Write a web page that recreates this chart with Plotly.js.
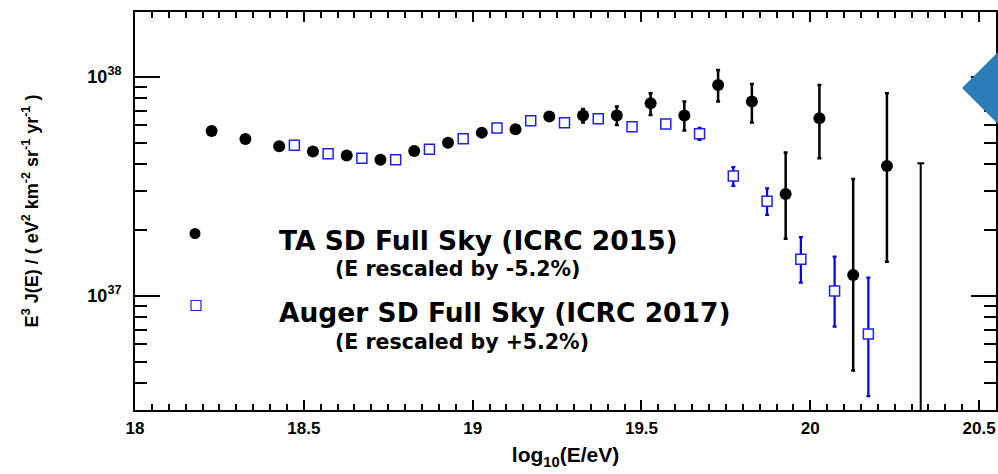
<!DOCTYPE html>
<html>
<head>
<meta charset="utf-8">
<script src="https://cdn.plot.ly/plotly-3.0.1.min.js"></script>
<style>
  html, body { margin: 0; padding: 0; background: #ffffff; }
  #chart { width: 998px; height: 474px; }
</style>
</head>
<body>
<div id="chart"></div>
<script>
// Telescope Array SD spectrum (energy rescaled by -5.2%)
const taLogE = [18.227, 18.327, 18.427, 18.527, 18.627, 18.727, 18.827, 18.927, 19.027, 19.127,
                19.227, 19.327, 19.427, 19.527, 19.627, 19.727, 19.827, 19.927, 20.027, 20.127, 20.227];
const taFlux = [5.65e37, 5.19e37, 4.81e37, 4.55e37, 4.36e37, 4.17e37, 4.58e37, 4.99e37, 5.55e37, 5.75e37,
                6.57e37, 6.64e37, 6.64e37, 7.56e37, 6.64e37, 9.16e37, 7.69e37, 2.91e37, 6.46e37, 1.243e37, 3.91e37];
const taUpper = [null, null, null, null, null, null, null, null, null, null,
                 null, 7.12e37, 7.30e37, 8.40e37, 7.69e37, 1.073e38, 9.26e37, 4.50e37, 9.16e37, 3.41e37, 8.40e37];
const taLower = [null, null, null, null, null, null, null, null, null, null,
                 null, 6.17e37, 6.02e37, 6.68e37, 5.67e37, 7.69e37, 6.17e37, 1.82e37, 4.24e37, 4.55e36, 1.43e37];
// highest TA bin: upper limit only
const taLimitLogE = [20.327];
const taLimitFlux = [4.02e37];

// Pierre Auger SD spectrum (energy rescaled by +5.2%)
const augerLogE = [18.472, 18.572, 18.672, 18.772, 18.872, 18.972, 19.072, 19.172, 19.272, 19.372,
                   19.472, 19.572, 19.672, 19.772, 19.872, 19.972, 20.072, 20.172];
const augerFlux = [4.86e37, 4.44e37, 4.24e37, 4.17e37, 4.66e37, 5.21e37, 5.83e37, 6.28e37, 6.15e37, 6.43e37,
                   5.91e37, 6.08e37, 5.48e37, 3.52e37, 2.70e37, 1.466e37, 1.051e37, 6.69e36];
const augerUpper = [null, null, null, null, null, null, null, null, null, null,
                    null, null, 5.83e37, 3.86e37, 3.09e37, 1.85e37, 1.507e37, 1.208e37];
const augerLower = [null, null, null, null, null, null, null, null, null, null,
                    null, null, 5.14e37, 3.17e37, 2.34e37, 1.147e37, 7.22e36, 3.48e36];

// axis ticks
const yTickVals = [1e37, 1e38];
const yTickText = ['10<sup>37</sup>', '10<sup>38</sup>'];
const yMinorVals = [3e36, 4e36, 5e36, 6e36, 7e36, 8e36, 9e36,
                    2e37, 3e37, 4e37, 5e37, 6e37, 7e37, 8e37, 9e37];

// legend labels
const taLabel = 'TA SD Full Sky (ICRC 2015)';
const taNote = '(E rescaled by -5.2%)';
const augerLabel = 'Auger SD Full Sky (ICRC 2017)';
const augerNote = '(E rescaled by +5.2%)';

// ---- layout geometry ----
const W = 998, H = 474;
const M = { l: 135, r: 2, t: 12, b: 64 };
const plotW = W - M.l - M.r, plotH = H - M.t - M.b;
const Y_RANGE = [36.478, 38.295];
const X_RANGE = [18, 20.55];
// pixel -> paper helpers for decorations
const px = x => (x - M.l) / plotW;
const py = y => (H - M.b - y) / plotH;

// asymmetric error sizes; NaN leaves a bin without any bar
const plus = (hi, v) => hi.map((h, i) => h == null ? NaN : h - v[i]);
const minus = (lo, v) => lo.map((l, i) => l == null ? NaN : v[i] - l);

// minor ticks on the energy axis every 0.05
const xMinorVals = [];
for (let k = 1; k * 0.05 < X_RANGE[1] - X_RANGE[0]; k++) xMinorVals.push(+(X_RANGE[0] + k * 0.05).toFixed(2));

const FONT = 'Liberation Sans, Arial, Helvetica, sans-serif';
const LEGEND_FONT = 'DejaVu Sans, Liberation Sans, sans-serif';
const BLUE = '#2020ee';

const traces = [
  {
    x: augerLogE, y: augerFlux, type: 'scatter', mode: 'markers', name: augerLabel,
    marker: { symbol: 'square', size: 10, color: '#ffffff', line: { width: 1.5, color: BLUE } },
    error_y: { type: 'data', symmetric: false, array: plus(augerUpper, augerFlux),
               arrayminus: minus(augerLower, augerFlux), color: '#0000e0', thickness: 2.2, width: 2 },
    showlegend: false
  },
  {
    x: taLogE, y: taFlux, type: 'scatter', mode: 'markers', name: taLabel,
    marker: { symbol: 'circle', size: 12, color: '#000000' },
    error_y: { type: 'data', symmetric: false, array: plus(taUpper, taFlux),
               arrayminus: minus(taLower, taFlux), color: '#000000', thickness: 2.5, width: 2 },
    showlegend: false
  },
  {
    // upper-limit bar running down to the bottom of the frame
    x: [taLimitLogE[0], taLimitLogE[0]],
    y: [taLimitFlux[0], Math.pow(10, Y_RANGE[0] - 0.2)],
    type: 'scatter', mode: 'lines', line: { color: '#000000', width: 2 },
    showlegend: false, hoverinfo: 'skip'
  },
  {
    x: taLimitLogE, y: taLimitFlux, type: 'scatter', mode: 'markers',
    marker: { symbol: 'line-ew-open', size: 5, color: '#000000', line: { width: 2, color: '#000000' } },
    showlegend: false, hoverinfo: 'skip'
  }
];

const tickFont = { family: FONT, size: 17, color: '#000000', weight: 'bold' };

const layout = {
  width: W, height: H,
  margin: M,
  paper_bgcolor: '#ffffff', plot_bgcolor: '#ffffff',
  showlegend: false,
  xaxis: {
    range: X_RANGE, tickmode: 'linear', tick0: 18, dtick: 0.5,
    ticks: 'inside', ticklen: 10, tickwidth: 2, tickcolor: '#000000',
    minor: { tickmode: 'array', tickvals: xMinorVals, ticks: 'inside', ticklen: 6, tickwidth: 2,
             tickcolor: '#000000', showgrid: false },
    showline: true, linewidth: 2, linecolor: '#000000', mirror: 'ticks',
    showgrid: false, zeroline: false, tickfont: tickFont, ticklabelstandoff: 2,
    title: { text: 'log<sub>10</sub>(E/eV)', font: { family: FONT, size: 21, color: '#000000', weight: 'bold' }, standoff: 10 }
  },
  yaxis: {
    type: 'log', range: Y_RANGE, tickmode: 'array', tickvals: yTickVals, ticktext: yTickText,
    ticks: 'inside', ticklen: 25, tickwidth: 2, tickcolor: '#000000',
    minor: { tickmode: 'array', tickvals: yMinorVals, ticks: 'inside', ticklen: 12, tickwidth: 2,
             tickcolor: '#000000', showgrid: false },
    showline: true, linewidth: 2, linecolor: '#000000', mirror: 'ticks',
    showgrid: false, zeroline: false,
    tickfont: { family: FONT, size: 18, color: '#000000', weight: 'bold' }, ticklabelstandoff: 8,
    title: { text: 'E<sup>3</sup> J(E) / ( eV<sup>2</sup> km<sup>-2</sup> sr<sup>-1</sup> yr<sup>-1</sup> )',
             font: { family: FONT, size: 18, color: '#000000', weight: 'bold' }, standoff: 44 }
  },
  annotations: [
    { text: taLabel, xref: 'paper', yref: 'paper', x: px(277), y: py(240), xanchor: 'left', yanchor: 'middle',
      showarrow: false, font: { family: LEGEND_FONT, size: 26.5, color: '#000000', weight: 'bold' } },
    { text: taNote, xref: 'paper', yref: 'paper', x: px(333), y: py(269), xanchor: 'left', yanchor: 'middle',
      showarrow: false, font: { family: LEGEND_FONT, size: 20.5, color: '#000000', weight: 'bold' } },
    { text: augerLabel, xref: 'paper', yref: 'paper', x: px(277), y: py(312), xanchor: 'left', yanchor: 'middle',
      showarrow: false, font: { family: LEGEND_FONT, size: 26.5, color: '#000000', weight: 'bold' } },
    { text: augerNote, xref: 'paper', yref: 'paper', x: px(333), y: py(342), xanchor: 'left', yanchor: 'middle',
      showarrow: false, font: { family: LEGEND_FONT, size: 20.5, color: '#000000', weight: 'bold' } }
  ],
  shapes: [
    // legend symbols
    { type: 'circle', xref: 'paper', yref: 'paper', x0: px(189.5), x1: px(200.5), y0: py(239), y1: py(228),
      fillcolor: '#000000', line: { width: 0 } },
    { type: 'rect', xref: 'paper', yref: 'paper', x0: px(191), x1: px(201), y0: py(310.5), y1: py(300.5),
      fillcolor: 'rgba(0,0,0,0)', line: { color: BLUE, width: 1.2 } },
    // blue diamond ornament at the right edge
    { type: 'path', xref: 'paper', yref: 'paper', layer: 'above',
      path: `M ${px(962)},${py(88)} L ${px(1005)},${py(45)} L ${px(1048)},${py(88)} L ${px(1005)},${py(131)} Z`,
      fillcolor: '#2a7db9', line: { width: 0 } }
  ]
};

Plotly.newPlot('chart', traces, layout, { displayModeBar: false, staticPlot: true });
</script>
</body>
</html>
